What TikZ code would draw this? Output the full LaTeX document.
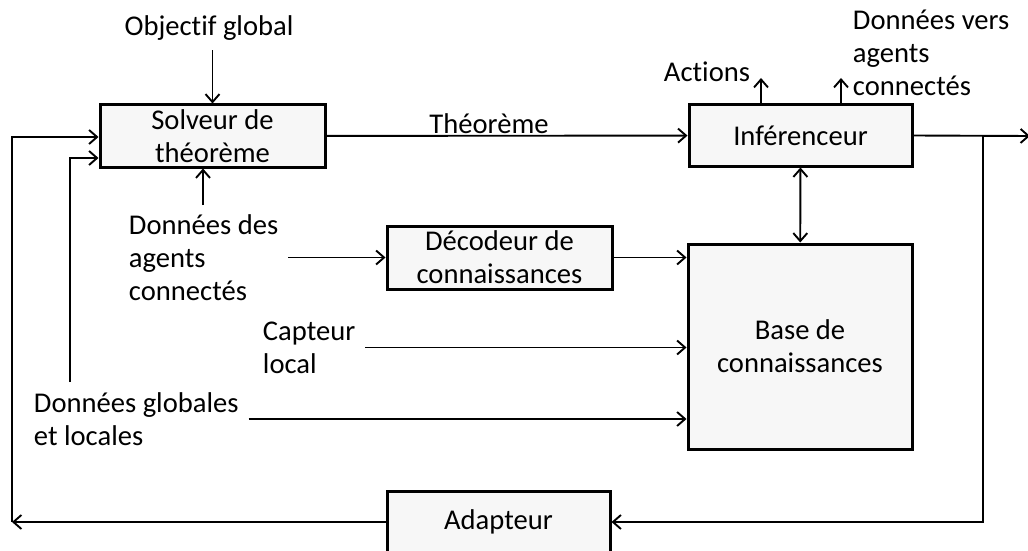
\documentclass[tikz,border=0pt]{standalone}
\usepackage{fontspec}
\setmainfont[Ligatures=NoCommon]{Carlito}
\usetikzlibrary{arrows.meta}
\definecolor{boxfill}{HTML}{F7F7F7}
\tikzset{bloc/.style={draw, line width=1.5pt, fill=boxfill, align=center, inner sep=0pt},
  lbl/.style={align=left, inner sep=4.5pt}}
\begin{document}
\begin{tikzpicture}[x=0.5pt, y=-0.5pt, line width=0.95pt, >={Straight Barb[length=4pt,width=7pt]},
  every node/.append style={font=\fontsize{14.3}{16.5}\selectfont}]
\useasboundingbox (0,0) rectangle (1028,551);
\node [bloc, minimum width=112.5pt, minimum height=31pt] (solveur) at (212.5,136) {Solveur de\\théorème};
\node [bloc, minimum width=111.5pt, minimum height=30.5pt] (infer) at (800.5,135.5) {Inférenceur};
\node [bloc, minimum width=112.5pt, minimum height=31.5pt] (decod) at (499.5,257.5) {Décodeur de\\connaissances};
\node [bloc, minimum width=112pt, minimum height=102.5pt] (base) at (800,346.5) {Base de\\connaissances};
\node [bloc, minimum width=111.5pt, minimum height=31pt] (adapt) at (498.5,522) {Adapteur};
\node [lbl] (obj) at (209,28) {Objectif global};
\node [lbl] (theo) at (489,124) {Théorème};
\node [lbl] (act) at (707,72) {Actions};
\node [lbl, anchor=west] (dvers) at (843,53) {Données vers\\agents\\connectés};
\node [lbl, anchor=west] (ddes) at (119,258) {Données des\\agents\\connectés};
\node [lbl, anchor=west] (capt) at (253,347.5) {Capteur\\local};
\node [lbl, anchor=west] (dglob) at (24,419) {Données globales\\et locales};
\coordinate (actup) at (761,78); \coordinate (dversup) at (841,78);
\coordinate (sortie) at (1030,136); \coordinate (jonc) at (983,136); \coordinate (coin) at (983,522);
\coordinate (retour) at (12,522); \coordinate (glob) at (70,382);
\draw [->] (obj.south -| solveur.north) -- (solveur.north);
\draw [->] ([xshift=-4.75pt]solveur.south |- ddes.north) -- ([xshift=-4.75pt]solveur.south);
\draw [->] (solveur) -- (infer);
\draw [<->] (infer) -- (base);
\draw [->] (infer.north -| actup) -- (actup); \draw [->] (infer.north -| dversup) -- (dversup);
\draw [->] (infer.east) -- (sortie); \draw [->] (jonc) -- (coin) -- (adapt.east);
\draw [->] (adapt.west) -- (retour); \draw [->] (retour) |- ([yshift=-0.5pt]solveur.west);
\draw [->] (glob) |- ([yshift=-11pt]solveur.west);
\draw [->] (ddes.east |- decod.west) -- (decod.west);
\draw [->] (decod.east) -- (decod.east -| base.west);
\draw [->] (capt.east) -- (capt.east -| base.west);
\draw [->] (dglob.east) -- (dglob.east -| base.west);
\end{tikzpicture}
\end{document}
